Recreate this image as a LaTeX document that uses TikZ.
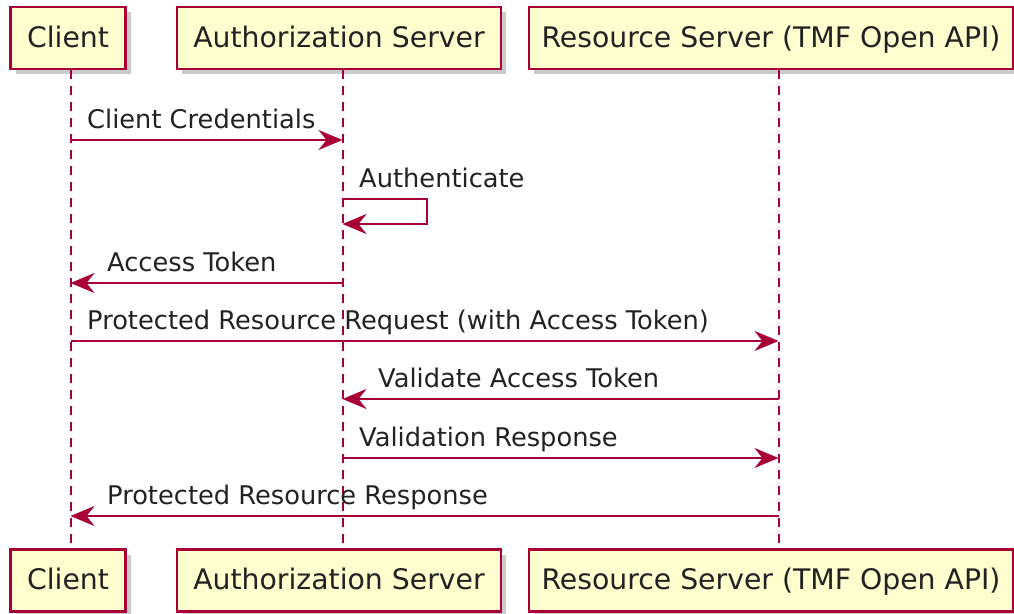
\documentclass[tikz,border=0pt]{standalone}
\usepackage{fontspec}
\setmainfont{DejaVu Sans}
\usetikzlibrary{arrows.meta,shadows}
\definecolor{pfill}{HTML}{FEFECE}
\definecolor{pline}{HTML}{A80036}
\definecolor{ptext}{HTML}{222222}
\begin{document}
\begin{tikzpicture}[x=1pt,y=-1pt,
  part/.style={draw=pline,fill=pfill,line width=2.8pt,inner sep=0pt,
    minimum height=62pt,text height=22pt,text depth=4pt,text=ptext,
    font=\fontsize{28.3}{32}\selectfont,
    drop shadow={shadow xshift=5pt,shadow yshift=-5pt,opacity=0.35,fill=black!60}},
  life/.style={draw=pline,line width=2pt,dash pattern=on 9pt off 7pt},
  msg/.style={draw=pline,line width=2pt,-{Stealth[length=24pt,width=20pt,inset=8pt]}},
  lbl/.style={anchor=base west,inner sep=0pt,text=ptext,font=\fontsize{25.7}{30}\selectfont}]
\useasboundingbox (0,0) rectangle (1014,613);
% participants
\node[part,minimum width=115pt] (ct) at (68,38) {Client};
\node[part,minimum width=324pt] (at) at (339,38) {Authorization Server};
\node[part,minimum width=484pt] (rt) at (771,38) {Resource Server (TMF Open API)};
\node[part,minimum width=115pt] (cb) at (68,580.5) {Client};
\node[part,minimum width=324pt] (ab) at (339,580.5) {Authorization Server};
\node[part,minimum width=484pt] (rb) at (771,580.5) {Resource Server (TMF Open API)};
% lifeline x positions
\coordinate (cx) at (70.5,0);
\coordinate (ax) at (342.5,0);
\coordinate (rx) at (778.5,0);
\coordinate (selfx) at (427,0);
\draw[life] (ct.south -| cx) -- (cb.north -| cx);
\draw[life] (at.south -| ax) -- (ab.north -| ax);
\draw[life] (rt.south -| rx) -- (rb.north -| rx);
% messages
\draw[msg] (cx |- 0,140) -- (ax |- 0,140);
\node[lbl] (m1) at (87,128) {Client Credentials};
\draw[msg] (ax |- 0,199) -- (selfx |- 0,199) -- (selfx |- 0,224) -- (ax |- 0,224);
\node[lbl] (m2) at (359,187) {Authenticate};
\draw[msg] (ax |- 0,283) -- (cx |- 0,283);
\node[lbl] (m3) at (107,271) {Access Token};
\draw[msg] (cx |- 0,341) -- (rx |- 0,341);
\node[lbl] (m4) at (87,329) {Protected Resource Request (with Access Token)};
\draw[msg] (rx |- 0,399) -- (ax |- 0,399);
\node[lbl] (m5) at (378,387) {Validate Access Token};
\draw[msg] (ax |- 0,458) -- (rx |- 0,458);
\node[lbl] (m6) at (359,446) {Validation Response};
\draw[msg] (rx |- 0,516) -- (cx |- 0,516);
\node[lbl] (m7) at (107,504) {Protected Resource Response};
\end{tikzpicture}
\end{document}
